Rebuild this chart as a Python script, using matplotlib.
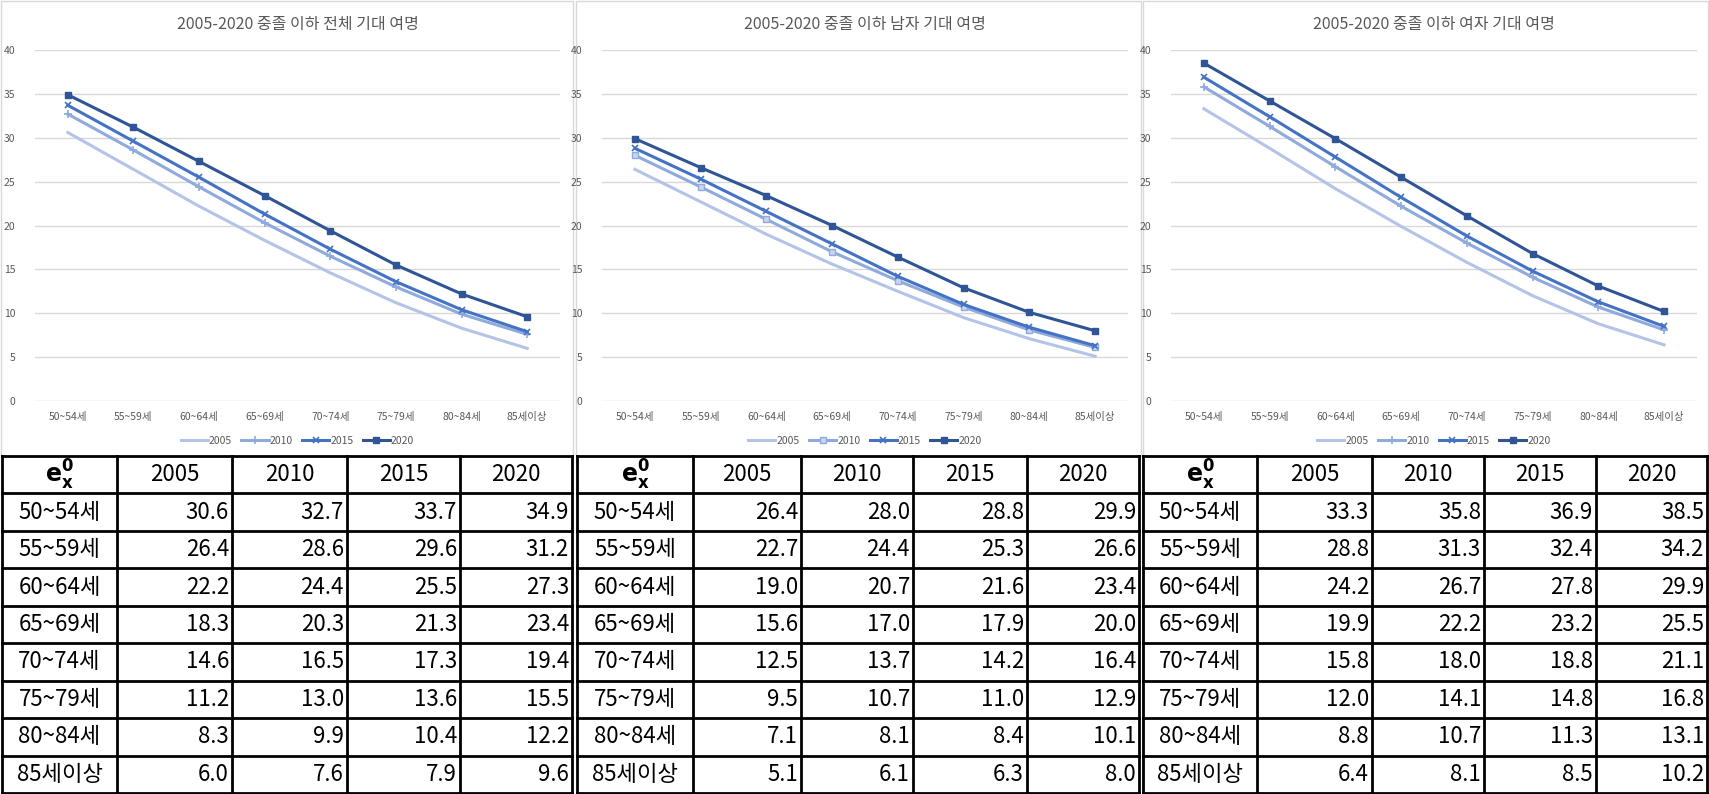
import matplotlib
matplotlib.use('Agg')
import matplotlib.pyplot as plt
from matplotlib.patches import Rectangle

plt.rcParams['font.family'] = ['Noto Sans CJK KR', 'DejaVu Sans']

ages = ['50~54세', '55~59세', '60~64세', '65~69세', '70~74세', '75~79세', '80~84세', '85세이상']
years = ['2005', '2010', '2015', '2020']
titles = ['2005-2020 중졸 이하 전체 기대 여명',
          '2005-2020 중졸 이하 남자 기대 여명',
          '2005-2020 중졸 이하 여자 기대 여명']

# life expectancy, total
total_2005 = [30.6, 26.4, 22.2, 18.3, 14.6, 11.2, 8.3, 6.0]
total_2010 = [32.7, 28.6, 24.4, 20.3, 16.5, 13.0, 9.9, 7.6]
total_2015 = [33.7, 29.6, 25.5, 21.3, 17.3, 13.6, 10.4, 7.9]
total_2020 = [34.9, 31.2, 27.3, 23.4, 19.4, 15.5, 12.2, 9.6]

# male
male_2005 = [26.4, 22.7, 19.0, 15.6, 12.5, 9.5, 7.1, 5.1]
male_2010 = [28.0, 24.4, 20.7, 17.0, 13.7, 10.7, 8.1, 6.1]
male_2015 = [28.8, 25.3, 21.6, 17.9, 14.2, 11.0, 8.4, 6.3]
male_2020 = [29.9, 26.6, 23.4, 20.0, 16.4, 12.9, 10.1, 8.0]

# female
female_2005 = [33.3, 28.8, 24.2, 19.9, 15.8, 12.0, 8.8, 6.4]
female_2010 = [35.8, 31.3, 26.7, 22.2, 18.0, 14.1, 10.7, 8.1]
female_2015 = [36.9, 32.4, 27.8, 23.2, 18.8, 14.8, 11.3, 8.5]
female_2020 = [38.5, 34.2, 29.9, 25.5, 21.1, 16.8, 13.1, 10.2]

panels = [
    [total_2005, total_2010, total_2015, total_2020],
    [male_2005, male_2010, male_2015, male_2020],
    [female_2005, female_2010, female_2015, female_2020],
]

colors = ['#b4c3e8', '#8faadc', '#4472c4', '#2f5597']
W, H = 1709, 794


def rect(x0, y0, x1, y1):
    return [x0 / W, 1 - y1 / H, (x1 - x0) / W, (y1 - y0) / H]


fig = plt.figure(figsize=(W / 100, H / 100), dpi=100)

# overlay for frames and tables, in pixel coords
bg = fig.add_axes([0, 0, 1, 1])
bg.set_xlim(0, W)
bg.set_ylim(H, 0)
bg.axis('off')

panel_x = [(1, 573), (576, 1141), (1143, 1708)]
plot_x = [(35, 560), (602, 1128), (1171, 1697)]
plot_y = (50, 401)

for k in range(3):
    px0, px1 = panel_x[k]
    bg.add_patch(Rectangle((px0, 1), px1 - px0, 455, fill=False, ec='#d9d9d9', lw=1))
    ax = fig.add_axes(rect(plot_x[k][0], plot_y[0], plot_x[k][1], plot_y[1]))
    xs = range(len(ages))
    vals = panels[k]
    ax.plot(xs, vals[0], color=colors[0], lw=2.2, label=years[0])
    if k == 1:
        ax.plot(xs, vals[1], color=colors[1], lw=2.2, marker='s', ms=5,
                mfc='#c9d5ef', mec=colors[1], mew=1, label=years[1])
    else:
        ax.plot(xs, vals[1], color=colors[1], lw=2.2, marker='+', ms=6, mew=1.2, label=years[1])
    ax.plot(xs, vals[2], color=colors[2], lw=2.2, marker='x', ms=5, mew=1.2, label=years[2])
    ax.plot(xs, vals[3], color=colors[3], lw=2.2, marker='s', ms=5, label=years[3])
    ax.set_xlim(-0.5, 7.5)
    ax.set_ylim(0, 40)
    ax.set_yticks(range(0, 41, 5))
    ax.set_xticks(list(xs))
    ax.set_xticklabels(ages)
    ax.tick_params(length=0, labelsize=7.5, labelcolor='#595959')
    ax.tick_params(axis='x', pad=8)
    ax.tick_params(axis='y', pad=14)
    ax.grid(axis='y', color='#d9d9d9', lw=1)
    ax.set_axisbelow(True)
    for s in ax.spines.values():
        s.set_visible(False)
    ax.legend(loc='center', bbox_to_anchor=(0.5, -0.114), ncol=4, frameon=False,
              fontsize=7.5, labelcolor='#595959', handlelength=2.6,
              handletextpad=0.1, columnspacing=0.9)
    fig.text(((plot_x[k][0] + plot_x[k][1]) / 2) / W, 1 - 24 / H, titles[k],
             ha='center', va='center', fontsize=11.5, color='#595959')

# tables under the charts
table_cols = [
    [2, 117, 232, 347, 460, 572],
    [577, 693, 801, 913, 1027, 1139],
    [1143, 1257, 1372, 1484, 1596, 1707],
]
top, bottom = 456, 793
row_h = (bottom - top) / 9
cell = dict(fontsize=16, family=['Noto Sans CJK KR', 'DejaVu Sans'])

for k in range(3):
    cols = table_cols[k]
    for r in range(10):
        y = top + r * row_h
        bg.plot([cols[0], cols[-1]], [y, y], color='black', lw=2)
    for c in cols:
        bg.plot([c, c], [top, bottom], color='black', lw=2)
    # header row
    yc = top + row_h / 2
    bg.text((cols[0] + cols[1]) / 2, yc, r'$\mathbf{e_x^0}$', ha='center', va='center',
            fontsize=17)
    for j, yr in enumerate(years):
        bg.text((cols[j + 1] + cols[j + 2]) / 2, yc, yr, ha='center', va='center', **cell)
    for i, age in enumerate(ages):
        yc = top + (i + 1.5) * row_h
        bg.text((cols[0] + cols[1]) / 2, yc, age, ha='center', va='center', **cell)
        for j in range(4):
            bg.text(cols[j + 2] - 3, yc, f'{panels[k][j][i]:.1f}', ha='right', va='center',
                    **cell)

fig.savefig('out.png', dpi=100)
